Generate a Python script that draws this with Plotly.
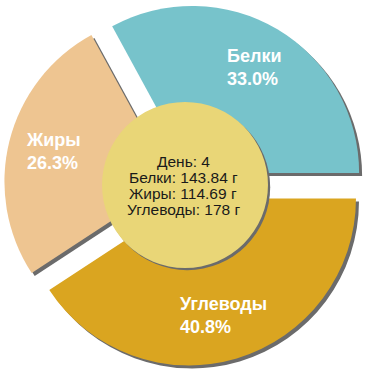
import math
import plotly.graph_objects as go

# ---- data ----
categories = ["Белки", "Жиры", "Углеводы"]
grams = [143.84, 114.69, 178]
grams_text = ["143.84", "114.69", "178"]
day = 4
slice_colors = ["#77C3CB", "#EEC591", "#DAA520"]
center_color = "#E9D677"
shadow_color = "#6B6B6B"

W = H = 370
ML, MR, MT, MB = 4, 1, 4, 1
PW = W - ML - MR
PH = H - MT - MB
SH = 3  # shadow offset in px
PULL = 0.084
FONT = "Arial, Liberation Sans, sans-serif"

total = sum(grams)
# first slice starts at 3 o'clock and runs counterclockwise
rotation = 90 - grams[0] / total * 360

dom_main_x = [0, (PW - SH) / PW]
dom_main_y = [SH / PH, 1]
dom_sh_x = [SH / PW, 1]
dom_sh_y = [0, (PH - SH) / PH]

fig = go.Figure()
# shadow pie
fig.add_trace(go.Pie(
    labels=categories, values=grams, sort=False, direction="counterclockwise",
    rotation=rotation, pull=[PULL] * len(grams), textinfo="none", hoverinfo="skip",
    marker=dict(colors=[shadow_color] * len(grams), line=dict(width=0)),
    domain=dict(x=dom_sh_x, y=dom_sh_y), showlegend=False,
))
# main pie
fig.add_trace(go.Pie(
    labels=categories, values=grams, sort=False, direction="counterclockwise",
    rotation=rotation, pull=[PULL] * len(grams), textinfo="none", hoverinfo="skip",
    marker=dict(colors=slice_colors, line=dict(width=0)),
    domain=dict(x=dom_main_x, y=dom_main_y), showlegend=False,
))

# geometry of main pie (paper coords)
box = (PW - SH) / 2
r_px = box / (1 + PULL)
cx = (dom_main_x[0] + dom_main_x[1]) / 2
cy = (dom_main_y[0] + dom_main_y[1]) / 2

# slice labels
cum = 0
label_dist = 0.815 * r_px
for name, g in zip(categories, grams):
    mid = (cum + g / 2) / total * 2 * math.pi
    cum += g
    fig.add_annotation(
        x=cx + label_dist * math.cos(mid) / PW,
        y=cy + label_dist * math.sin(mid) / PH,
        xref="paper", yref="paper", showarrow=False,
        text=f"<b>{name}<br>{g / total * 100:.1f}%</b>", align="left",
        font=dict(family=FONT, size=18, color="white"),
        xanchor="center", yanchor="middle",
    )

# center circle with shadow
cr = 0.497 * r_px
cs = 2.2
fig.add_shape(type="circle", xref="paper", yref="paper", layer="above",
              x0=cx + (cs - cr) / PW, x1=cx + (cs + cr) / PW,
              y0=cy + (-cs - cr) / PH, y1=cy + (-cs + cr) / PH,
              fillcolor=shadow_color, line=dict(width=0))
fig.add_shape(type="circle", xref="paper", yref="paper", layer="above",
              x0=cx - cr / PW, x1=cx + cr / PW,
              y0=cy - cr / PH, y1=cy + cr / PH,
              fillcolor=center_color, line=dict(width=0))

lines = [f"День: {day}"] + [f"{n}: {t} г" for n, t in zip(categories, grams_text)]
spacing = 16
n = len(lines)
for i, t in enumerate(lines):
    fig.add_annotation(
        x=cx - 2 / PW, y=cy, xref="paper", yref="paper", showarrow=False,
        text=t, font=dict(family=FONT, size=15.5, color="#1A1A1A"),
        xanchor="center", yanchor="middle", borderpad=0,
        yshift=((n - 1) / 2 - i) * spacing,
    )

fig.update_layout(
    width=W, height=H, autosize=False,
    margin=dict(l=ML, r=MR, t=MT, b=MB, pad=0),
    paper_bgcolor="white", plot_bgcolor="white",
    showlegend=False,
)
fig.write_html(
    "out.html",
    config={"displayModeBar": False},
    post_script="document.body.style.margin='0';document.body.style.overflow='hidden';",
)
